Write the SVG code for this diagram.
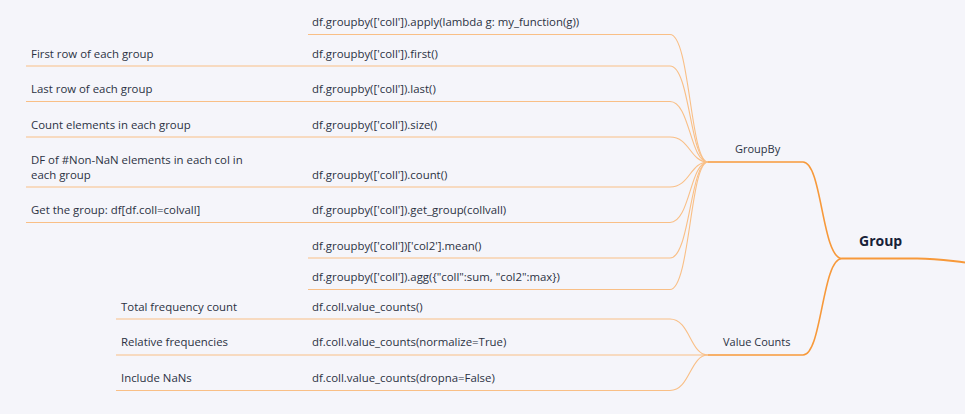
<svg xmlns="http://www.w3.org/2000/svg" width="965" height="414" viewBox="0 0 965 414">
<style>
.t{font-family:"Open Sans","Liberation Sans",Arial,sans-serif;font-size:11.4px;fill:#2b3243}
.m{font-family:"Open Sans","Liberation Sans",Arial,sans-serif;font-size:11px;fill:#2b3243}
.g{font-family:"Open Sans","Liberation Sans",Arial,sans-serif;font-size:14px;font-weight:bold;fill:#172238}
.c{fill:none;stroke:#f9bf86;stroke-width:1.1}
.b{fill:none;stroke:#f7993a;stroke-width:1.6}
.r{fill:none;stroke:#f7993a;stroke-width:2}
</style>
<rect width="965" height="414" fill="#f5f5fa"/>
<g id="connectors">
<path class="c" d="M308,34.5H670C690,34.5 690,162 708,162"/>
<path class="c" d="M26,66H670C690,66 690,162 708,162"/>
<path class="c" d="M26,101.5H670C690,101.5 690,162 708,162"/>
<path class="c" d="M26,137H670C690,137 690,162 708,162"/>
<path class="c" d="M26,187H670C690,187 690,162 708,162"/>
<path class="c" d="M26,222.5H670C690,222.5 690,162 708,162"/>
<path class="c" d="M308,258H670C690,258 690,162 708,162"/>
<path class="c" d="M308,289.5H670C690,289.5 690,162 708,162"/>
<path class="c" d="M116,319H670C690,319 690,355 708,355"/>
<path class="c" d="M116,355H708"/>
<path class="c" d="M116,390.5H670C690,390.5 690,355 708,355"/>
<path class="b" d="M708,162H803C822,162 822,258.5 842,258.5"/>
<path class="b" d="M708,355H803C822,355 822,258.5 842,258.5"/>
<path class="r" d="M842,258.5H917C940,258.5 950,261 965,262.5"/>
</g>
<g id="group"><text class="g" x="859" y="246">Group</text></g>
<g id="groupby"><text class="m" x="735" y="153">GroupBy</text></g>
<g id="valuecounts"><text class="m" x="723" y="346">Value Counts</text></g>
<g id="apply"><text class="t" x="312" y="26">df.groupby(['coll']).apply(lambda g: my_function(g))</text></g>
<g id="first"><text class="t" x="31" y="58">First row of each group</text><text class="t" x="312" y="58">df.groupby(['coll']).first()</text></g>
<g id="last"><text class="t" x="31" y="93">Last row of each group</text><text class="t" x="312" y="93">df.groupby(['coll']).last()</text></g>
<g id="size"><text class="t" x="31" y="129">Count elements in each group</text><text class="t" x="312" y="129">df.groupby(['coll']).size()</text></g>
<g id="count"><text class="t" x="31" y="164">DF of #Non-NaN elements in each col in</text><text class="t" x="31" y="179">each group</text><text class="t" x="312" y="179">df.groupby(['coll']).count()</text></g>
<g id="getgroup"><text class="t" x="31" y="214">Get the group: df[df.coll=colvall]</text><text class="t" x="312" y="214">df.groupby(['coll']).get_group(collvall)</text></g>
<g id="mean"><text class="t" x="312" y="250">df.groupby(['coll'])['col2'].mean()</text></g>
<g id="agg"><text class="t" x="312" y="281">df.groupby(['coll']).agg({"coll":sum, "col2":max})</text></g>
<g id="total"><text class="t" x="121" y="311">Total frequency count</text><text class="t" x="312" y="311">df.coll.value_counts()</text></g>
<g id="relative"><text class="t" x="121" y="346">Relative frequencies</text><text class="t" x="312" y="346">df.coll.value_counts(normalize=True)</text></g>
<g id="nans"><text class="t" x="121" y="382">Include NaNs</text><text class="t" x="312" y="382">df.coll.value_counts(dropna=False)</text></g>
</svg>
